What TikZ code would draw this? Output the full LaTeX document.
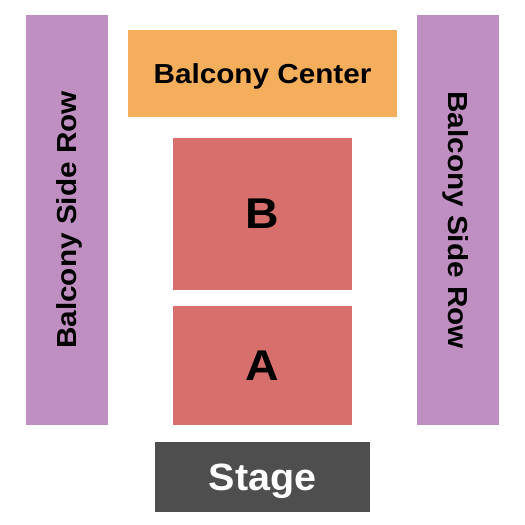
\documentclass[tikz,border=0pt]{standalone}
\usepackage{fontspec}
\setmainfont{Liberation Sans}
\definecolor{sidepurple}{RGB}{191,143,194}
\definecolor{balcorange}{RGB}{245,174,91}
\definecolor{secred}{RGB}{215,112,109}
\definecolor{stagegray}{RGB}{78,78,78}
\tikzset{
  area/.style={rectangle, inner sep=0pt, draw=none, text depth=0pt, font=\bfseries},
  lbl/.style={font=\bfseries\fontsize{27.5}{30}\selectfont},
}
\newcommand{\wide}[1]{\scalebox{1.08}[1]{#1}}
\begin{document}
\begin{tikzpicture}[x=1pt,y=-1pt]
\useasboundingbox[fill=white] (0,0) rectangle (525,525);
\node[area, fill=sidepurple, minimum width=410pt, minimum height=82pt, rotate=90, lbl] (left) at (67,220) {\wide{Balcony Side Row}};
\node[area, fill=sidepurple, minimum width=410pt, minimum height=82pt, rotate=-90, lbl] (right) at (458,220) {\wide{Balcony Side Row}};
\node[area, fill=balcorange, minimum width=269pt, minimum height=87pt, lbl] (balc) at (262.5,73.5) {\wide{Balcony Center}};
\node[area, fill=secred, minimum width=179pt, minimum height=152pt, font=\bfseries\fontsize{43}{46}\selectfont] (secB) at (262.5,214) {\wide{B}};
\node[area, fill=secred, minimum width=179pt, minimum height=119pt, font=\bfseries\fontsize{43}{46}\selectfont] (secA) at (262.5,365.5) {\wide{A}};
\node[area, fill=stagegray, minimum width=215pt, minimum height=70pt, text=white, font=\bfseries\fontsize{38}{42}\selectfont] (stage) at (262.5,477) {\scalebox{1.04}[1]{Stage}};
\end{tikzpicture}
\end{document}
